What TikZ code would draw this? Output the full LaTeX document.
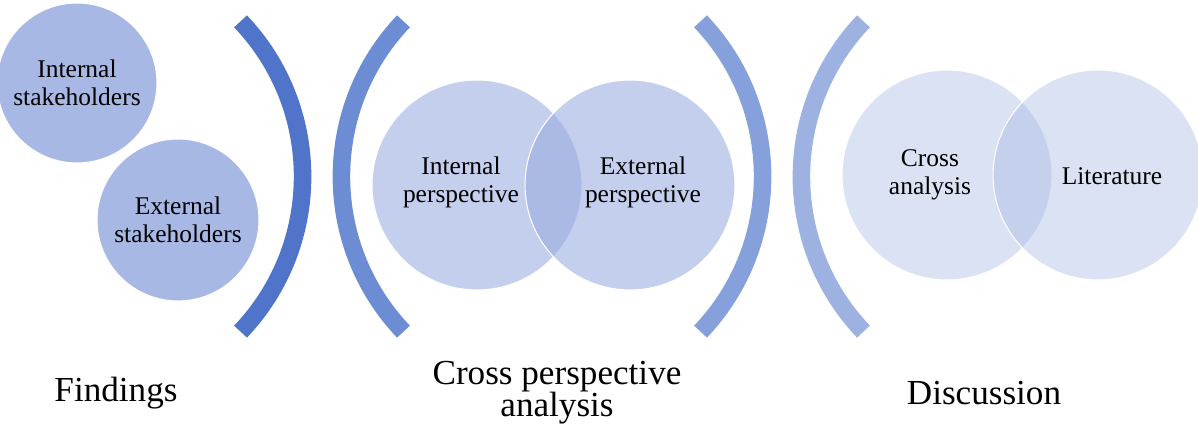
\documentclass[tikz,border=0pt]{standalone}
\usepackage{fontspec}
\setmainfont{Liberation Serif}
\usepackage{xcolor}
\usepackage{tikz}
\definecolor{arcA}{RGB}{79,116,201}
\definecolor{arcB}{RGB}{108,141,211}
\definecolor{arcC}{RGB}{134,160,219}
\definecolor{arcD}{RGB}{158,178,226}
\definecolor{holderblue}{RGB}{167,184,229}
\definecolor{vennA}{RGB}{150,169,223}
\definecolor{vennB}{RGB}{165,184,226}
\tikzset{
  holder/.style={circle, fill=holderblue, draw=white, line width=.6pt, minimum size=3.2cm, inner sep=0, align=center, font=\fontsize{14.5}{16}\selectfont},
  venn/.style={circle, draw=white, line width=.6pt, minimum size=4.2cm, inner sep=0},
  venntext/.style={align=center, inner sep=1, font=\fontsize{14.5}{16}\selectfont},
  bracket/.style={line width=10pt},
  stage/.style={align=center, font=\fontsize{20}{18.2}\selectfont}
}

\begin{document}
\begin{tikzpicture}[x=0.02cm, y=0.02cm]
\useasboundingbox (0,0) rectangle (1198,432);
% stakeholders
\node[holder] (inthold) at (77,349) {Internal\\stakeholders};
\node[holder, minimum size=3.24cm] (exthold) at (178,212) {External\\stakeholders};
% brackets
\foreach \cx/\a/\col in {77.6/0/arcA, 566.4/180/arcB, 537.6/0/arcC, 1026.4/180/arcD} {
  \draw[bracket, \col] (\cx,255.5) ++(\a-43.6:225) arc (\a-43.6:\a+43.6:225);
}
% first venn
\node[venn, fill=vennA, fill opacity=.56] (intview) at (477,247) {};
\node[venn, fill=vennA, fill opacity=.56] (extview) at (630,247) {};
\node[venntext] (inttext) at (461,250) {Internal\\perspective};
\node[venntext] (exttext) at (643,250) {External\\perspective};
% second venn
\node[venn, fill=vennB, fill opacity=.41] (crossan) at (947,257) {};
\node[venn, fill=vennB, fill opacity=.41] (litview) at (1098,257) {};
\node[venntext] (crosstext) at (930,257) {Cross\\analysis};
\node[venntext] (littext) at (1112,256) {Literature};
% stage names
\node[stage] (findings) at (116,39) {Findings};
\node[stage] (crossper) at (557,39) {Cross perspective\\analysis};
\node[stage] (discuss) at (984,39) {Discussion};
\end{tikzpicture}
\end{document}
